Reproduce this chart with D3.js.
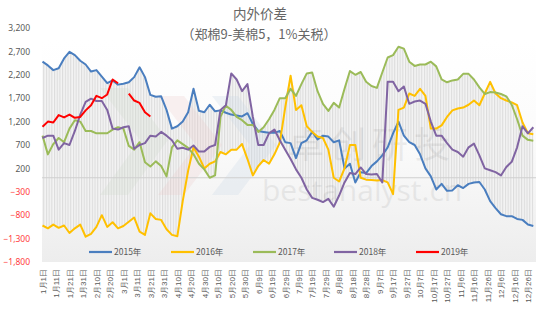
<!DOCTYPE html>
<html>
<head>
<meta charset="utf-8">
<script src="https://cdn.jsdelivr.net/npm/d3@7"></script>
<style>
  body { margin: 0; background: #ffffff; }
  svg { display: block; font-family: "Noto Sans CJK SC", "Noto Sans", sans-serif; }
</style>
</head>
<body>
<svg id="chart" width="554" height="323"></svg>
<script>
// Day-of-year positions (leap-year calendar), one sample every 4 days
const dayIndex = d3.range(0, 365, 4);

// Axis ticks
const tickDays = d3.range(0, 361, 10);
const tickLabels = ["1月1日","1月11日","1月21日","1月31日","2月10日","2月20日","3月1日","3月11日","3月21日","3月31日",
  "4月10日","4月20日","4月30日","5月10日","5月20日","5月30日","6月9日","6月19日","6月29日","7月9日",
  "7月19日","7月29日","8月8日","8月18日","8月28日","9月7日","9月17日","9月27日","10月7日","10月17日",
  "10月27日","11月6日","11月16日","11月26日","12月6日","12月16日","12月26日"];
const yTicks = d3.range(-1800, 3201, 500);

// Spread (Zhengzhou cotton 9 - ICE cotton 5, 1% tariff), yuan/ton
const spread2015 = [2480,2400,2300,2340,2550,2690,2620,2500,2420,2270,
  2300,2160,2020,2080,1990,2010,2040,2150,2360,2150,
  1770,1730,1740,1450,1050,1100,1200,1400,1900,1430,
  1400,1560,1420,1440,1390,1350,1330,1310,1380,1150,
  1000,980,960,960,1000,760,740,420,740,800,
  980,820,900,880,760,800,200,300,-100,120,
  100,250,350,480,650,950,1200,900,760,700,
  500,200,30,-250,-130,-280,-270,-160,-220,-130,
  -100,-90,-250,-500,-650,-780,-820,-820,-880,-900,
  -1000,-1030];
const spread2016 = [-1020,-1080,-1000,-1070,-1020,-1180,-1080,-1000,-1260,-1200,
  -1050,-800,-1050,-950,-1080,-1030,-940,-850,-1150,-1220,
  -760,-880,-900,-1100,-1220,-1250,-500,150,650,450,
  200,300,350,550,500,600,600,720,400,50,
  250,380,300,500,750,1500,2180,1450,1550,1100,
  980,880,850,600,0,-80,200,700,700,0,
  -40,-50,-60,-50,-100,-350,1450,1500,1800,1750,
  1900,1750,1050,1050,1120,1300,1440,1480,1500,1560,
  1650,1550,1800,2050,1800,1700,1650,1610,1550,1180,
  950,930];
const spread2017 = [900,500,720,850,760,1050,1230,1200,1000,1000,
  950,950,950,1030,1080,1050,680,600,760,330,
  240,350,250,30,650,800,720,640,500,300,
  180,0,50,1300,1540,1450,1300,1230,1130,1130,
  980,1080,1250,1450,1700,1700,1900,1750,2000,2230,
  2250,1850,1580,1430,1600,1500,1900,2280,2200,2260,
  2050,1960,1920,2250,2570,2620,2800,2760,2480,2390,
  2420,2420,2480,2380,2100,2040,2080,2100,2220,2220,
  2100,1930,1790,1830,1820,1790,1740,1560,1250,900,
  810,790];
const spread2018 = [850,900,900,600,740,700,1000,1350,1620,1690,
  1640,1640,1450,1050,1030,1080,1100,620,700,740,
  900,880,980,900,800,620,640,600,690,560,
  560,660,700,1450,1550,2230,2100,1850,2000,1300,
  700,700,950,1030,800,600,400,180,0,-250,
  -430,-470,-520,-450,-620,-380,-100,100,80,220,
  80,70,80,-100,2050,2050,1850,1950,1580,1630,
  1650,1580,1200,900,900,740,600,550,450,650,
  730,480,200,160,120,50,230,340,650,1100,
  950,1080];
const spread2019 = [1090,1200,1180,1340,1290,1350,1280,1300,1440,1550,
  1750,1700,1780,2100,2020,null,1800,1650,1600,1400,
  1310];

const seriesNames = ["2015年", "2016年", "2017年", "2018年", "2019年"];
const seriesColors = ["#4a7ebf", "#ffc000", "#9bbb59", "#8064a2", "#ff0000"];
const seriesValues = [spread2015, spread2016, spread2017, spread2018, spread2019];

const svg = d3.select("#chart");
const plot = { left: 42, right: 536, top: 28, bottom: 262 };

const x = d3.scaleLinear().domain([0, 366]).range([plot.left + 0.5, plot.right]);
const y = d3.scaleLinear().domain([-1800, 3200]).range([plot.bottom, plot.top]);

const defs = svg.append("defs");
const grad = defs.append("linearGradient").attr("id", "bg").attr("x1", 0).attr("y1", 0).attr("x2", 0).attr("y2", 1);
grad.append("stop").attr("offset", "0%").attr("stop-color", "#ffffff");
grad.append("stop").attr("offset", "45%").attr("stop-color", "#fbfbfb");
grad.append("stop").attr("offset", "100%").attr("stop-color", "#ededed");

const pat = defs.append("pattern").attr("id", "stripes")
  .attr("patternUnits", "userSpaceOnUse").attr("width", 2.7).attr("height", 8);
pat.append("rect").attr("width", 2.7).attr("height", 8).attr("fill", "#f4f4f4");
pat.append("rect").attr("width", 1.1).attr("height", 8).attr("fill", "#dcdcdc");

// Plot area background
svg.append("rect")
  .attr("x", plot.left).attr("y", 40)
  .attr("width", plot.right - plot.left).attr("height", plot.bottom - 40)
  .attr("fill", "url(#bg)");

// Title
svg.append("text").attr("x", 260).attr("y", 19).attr("text-anchor", "middle")
  .attr("font-size", 13.5).attr("fill", "#666").text("内外价差");
svg.append("text").attr("x", 259).attr("y", 39).attr("text-anchor", "middle")
  .attr("font-size", 13).attr("fill", "#666").text("（郑棉9-美棉5，1%关税）");

// High-low band across all years for each sampled day
const rows = dayIndex.map((d, i) => {
  const vals = seriesValues.map(s => s[i]).filter(v => v !== null && v !== undefined);
  return { d, lo: d3.min(vals), hi: d3.max(vals) };
});
svg.append("path")
  .datum(rows)
  .attr("fill", "url(#stripes)")
  .attr("d", d3.area().x(r => x(r.d)).y0(r => y(r.lo)).y1(r => y(r.hi)));

// Watermark
const wm = svg.append("g");
wm.append("path").attr("d", "M100,88 L128,88 L168,140 L128,195 L100,195 L140,140 Z").attr("fill", "#cfdccb").attr("opacity", 0.28);
wm.append("path").attr("d", "M158,96 L184,96 L222,145 L184,195 L158,195 L196,145 Z").attr("fill", "#ecc9c6").attr("opacity", 0.25);
wm.append("path").attr("d", "M212,96 L238,96 L276,145 L238,195 L212,195 L250,145 Z").attr("fill", "#c9d6e6").attr("opacity", 0.28);
wm.append("text").attr("x", 288).attr("y", 158).attr("font-size", 36).attr("fill", "#000").attr("opacity", 0.06)
  .attr("letter-spacing", 6).text("卓创研投");
wm.append("text").attr("x", 262).attr("y", 201).attr("font-size", 30).attr("fill", "#000").attr("opacity", 0.06)
  .attr("font-family", "Open Sans, sans-serif").text("bestanalyst.cn");

// Zero line
svg.append("line")
  .attr("x1", plot.left).attr("x2", plot.right)
  .attr("y1", y(0)).attr("y2", y(0))
  .attr("stroke", "#cfcfcf").attr("stroke-width", 1);

// Y axis labels
const yAxis = d3.axisLeft(y).tickValues(yTicks).tickFormat(d3.format(",")).tickSize(0).tickPadding(0);
const yg = svg.append("g").attr("transform", `translate(${plot.left - 12},0)`).call(yAxis);
yg.select(".domain").remove();
yg.selectAll("text")
  .attr("font-size", 8.5)
  .attr("font-family", "Noto Sans, sans-serif")
  .attr("fill", d => d < 0 ? "#ff3b3b" : "#595959");

// X axis labels (rotated)
const xAxis = d3.axisBottom(x).tickValues(tickDays)
  .tickFormat((d, i) => tickLabels[i]).tickSize(0).tickPadding(0);
const xg = svg.append("g").attr("transform", `translate(0,${plot.bottom})`).call(xAxis);
xg.select(".domain").remove();
xg.selectAll("text")
  .attr("font-size", 8)
  .attr("fill", "#595959")
  .attr("text-anchor", "end")
  .attr("transform", "translate(0,7) rotate(-90)")
  .attr("x", 0).attr("y", 0).attr("dy", "0.35em");

// Lines
const line = d3.line()
  .defined(p => p.v !== null && p.v !== undefined)
  .x(p => x(p.d)).y(p => y(p.v));
seriesValues.forEach((vals, k) => {
  const pts = vals.map((v, i) => ({ d: dayIndex[i], v }));
  svg.append("path")
    .datum(pts)
    .attr("fill", "none")
    .attr("stroke", seriesColors[k])
    .attr("stroke-width", 2)
    .attr("stroke-linejoin", "round")
    .attr("d", line);
});

// Legend
const legendX = [89, 171, 253, 334, 416];
const lg = svg.append("g").attr("transform", "translate(0,252)");
seriesNames.forEach((name, k) => {
  lg.append("line").attr("x1", legendX[k]).attr("x2", legendX[k] + 23)
    .attr("stroke", seriesColors[k]).attr("stroke-width", 2.2);
  lg.append("text").attr("x", legendX[k] + 25).attr("y", 0).attr("dy", "0.35em")
    .attr("font-size", 8.5).attr("fill", "#595959").text(name);
});
</script>
</body>
</html>
